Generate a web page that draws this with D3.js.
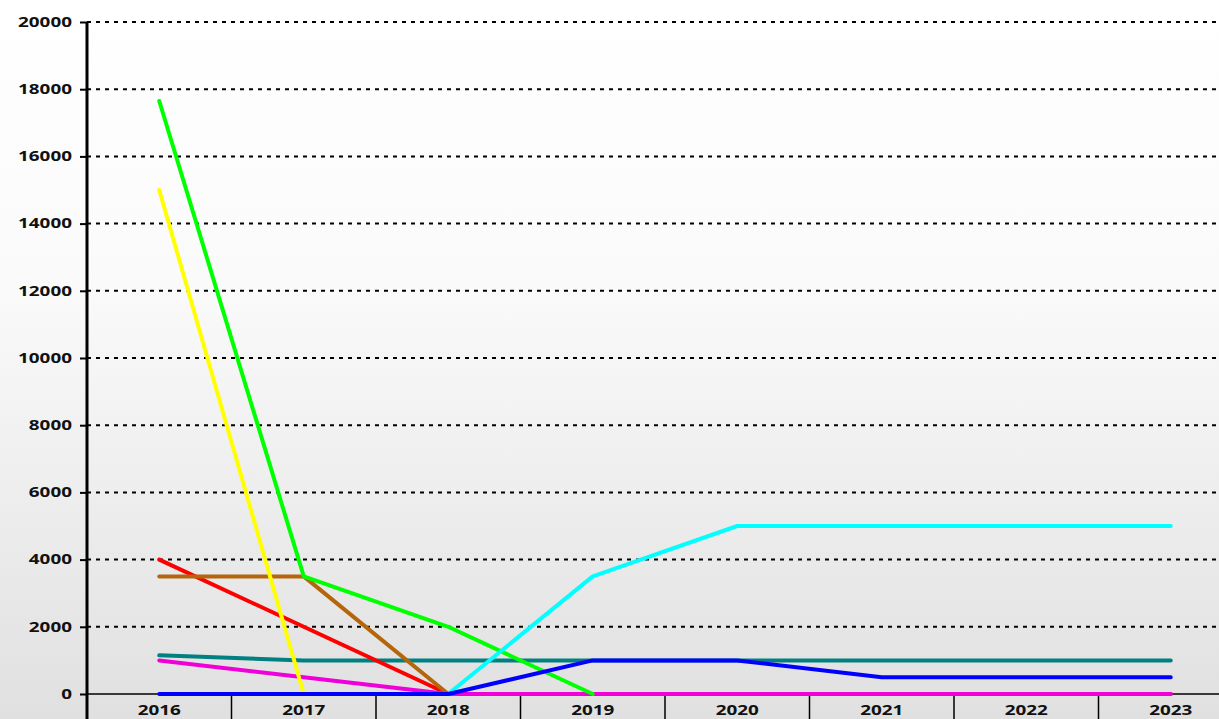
<!DOCTYPE html>
<html>
<head>
<meta charset="utf-8">
<script src="https://cdn.jsdelivr.net/npm/d3@7"></script>
<style>
  html, body { margin: 0; padding: 0; overflow: hidden; }
  text { font-family: "Open Sans", "DejaVu Sans", sans-serif; font-weight: bold; }
</style>
</head>
<body>
<div id="chart"></div>
<script>
// chart values
var years = ["2016", "2017", "2018", "2019", "2020", "2021", "2022", "2023"];
var yTicks = [0, 2000, 4000, 6000, 8000, 10000, 12000, 14000, 16000, 18000, 20000];

var teal    = [1150, 1000, 1000, 1000, 1000, 1000, 1000, 1000];
var red     = [4000, 2000, 0, 0, 0, 0, 0, 0];
var magenta = [1000, 500, 0, 0, 0, 0, 0, 0];
var brown   = [3500, 3500, 0, null, null, null, null, null];
var yellow  = [15000, 0, null, null, null, null, null, null];
var green   = [17650, 3500, 2000, 0, null, null, null, null];
var cyan    = [null, null, 0, 3500, 5000, 5000, 5000, 5000];
var blue    = [0, 0, 0, 1000, 1000, 500, 500, 500];

var series = [
  {name: "teal", color: "#008080", values: teal},
  {name: "red", color: "#ff0000", values: red},
  {name: "magenta", color: "#f000d8", values: magenta},
  {name: "brown", color: "#b5650c", values: brown},
  {name: "yellow", color: "#ffff00", values: yellow},
  {name: "green", color: "#00ff00", values: green},
  {name: "cyan", color: "#00ffff", values: cyan},
  {name: "blue", color: "#0000ff", values: blue}
];

var W = 1219, H = 719;
var margin = {top: 22, left: 87, bottom: 25};
var bandW = 144.5;
var stretch = 1.4; // labels in the picture are drawn wide

var svg = d3.select("#chart").append("svg")
    .attr("width", W)
    .attr("height", H);

// background gradient
var grad = svg.append("defs").append("linearGradient")
    .attr("id", "bg")
    .attr("x1", 0).attr("y1", 0).attr("x2", 0).attr("y2", 1);
grad.append("stop").attr("offset", "0%").attr("stop-color", "#ffffff");
grad.append("stop").attr("offset", "40%").attr("stop-color", "#fafafa");
grad.append("stop").attr("offset", "100%").attr("stop-color", "#e0e0e0");
svg.append("rect").attr("width", W).attr("height", H).attr("fill", "url(#bg)");

var x = d3.scaleBand()
    .domain(years)
    .range([margin.left, margin.left + bandW * years.length])
    .paddingInner(0).paddingOuter(0);

var y = d3.scaleLinear()
    .domain([0, 20000])
    .range([H - margin.bottom, margin.top]);

// dashed grid lines
svg.append("g")
    .selectAll("line")
    .data(yTicks.filter(function (d) { return d > 0; }))
    .join("line")
    .attr("x1", margin.left)
    .attr("x2", W)
    .attr("y1", function (d) { return y(d); })
    .attr("y2", function (d) { return y(d); })
    .attr("stroke", "#000")
    .attr("stroke-width", 2)
    .attr("stroke-dasharray", "4,5");

// y axis
var yAxis = svg.append("g")
    .attr("transform", "translate(" + margin.left + ",0)")
    .call(d3.axisLeft(y).tickValues(yTicks).tickSize(7).tickPadding(8).tickFormat(d3.format("d")));
yAxis.select(".domain").remove();
yAxis.selectAll(".tick line").attr("stroke-width", 2);
yAxis.selectAll(".tick text")
    .attr("font-size", 13.5)
    .attr("fill", "#111")
    .attr("x", null)
    .attr("transform", "translate(-15,0) scale(" + stretch + ",1)")
    .style("font-family", "'Open Sans', sans-serif")
    .style("font-weight", "bold");

// x axis line and band separators
svg.append("line")
    .attr("x1", margin.left).attr("x2", W)
    .attr("y1", y(0)).attr("y2", y(0))
    .attr("stroke", "#000").attr("stroke-width", 1.5);

svg.append("g")
    .selectAll("line")
    .data(years)
    .join("line")
    .attr("x1", function (d) { return x(d); })
    .attr("x2", function (d) { return x(d); })
    .attr("y1", y(0))
    .attr("y2", H)
    .attr("stroke", "#000")
    .attr("stroke-width", 1.5);

svg.append("g")
    .selectAll("text")
    .data(years)
    .join("text")
    .attr("transform", function (d) {
      return "translate(" + (x(d) + x.bandwidth() / 2) + "," + (H - 4) + ") scale(" + stretch + ",1)";
    })
    .attr("text-anchor", "middle")
    .attr("font-size", 13.5)
    .attr("fill", "#111")
    .text(function (d) { return d; });

// the lines
var line = d3.line()
    .defined(function (d) { return d != null; })
    .x(function (d, i) { return x(years[i]) + x.bandwidth() / 2; })
    .y(function (d) { return y(d); });

svg.append("g")
    .selectAll("path")
    .data(series)
    .join("path")
    .attr("fill", "none")
    .attr("stroke", function (d) { return d.color; })
    .attr("stroke-width", 4)
    .attr("stroke-linejoin", "round")
    .attr("stroke-linecap", "round")
    .attr("d", function (d) { return line(d.values); });

// thick vertical axis
svg.append("line")
    .attr("x1", margin.left).attr("x2", margin.left)
    .attr("y1", margin.top).attr("y2", H)
    .attr("stroke", "#000")
    .attr("stroke-width", 3);
</script>
</body>
</html>
